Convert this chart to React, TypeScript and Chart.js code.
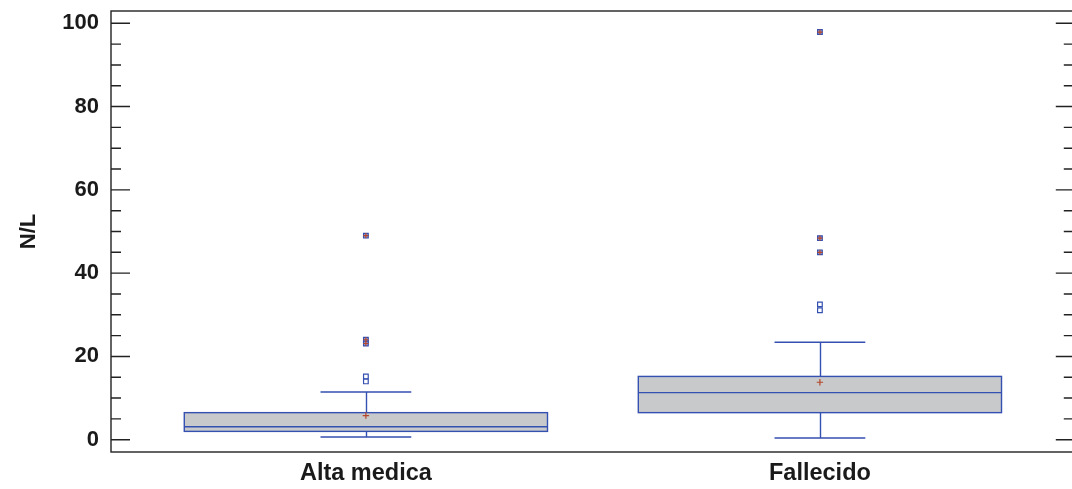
import React, { useEffect, useRef } from 'react';
import { Chart, registerables } from 'chart.js';

Chart.register(...registerables);

// ---- Data ----
const categories = ['Alta medica', 'Fallecido'];
const categoryPositions = [1, 2];
const q1Values = [2.0, 6.5];
const medianValues = [3.1, 11.3];
const q3Values = [6.5, 15.2];
const lowerWhisker = [0.65, 0.4];
const upperWhisker = [11.45, 23.4];
const meanValues = [5.8, 13.8];
const nearOutliers = [
  [15.2, 14.0],
  [32.5, 31.1],
];
const farOutliers = [
  [49.0, 24.0, 23.1],
  [97.9, 48.4, 45.0],
];
const yMajorTicks = [0, 20, 40, 60, 80, 100];
const yMinorTicks = [5, 10, 15, 25, 30, 35, 45, 50, 55, 65, 70, 75, 85, 90, 95];
const yAxisTitle = 'N/L';

// ---- Styles ----
const BLUE = '#3450b0';
const BOX_FILL = '#c8c9cb';
const RED = '#b4472a';
const FRAME = '#222222';
const BOX_HALF = 0.4;
const CAP_HALF = 0.1;
const FONT = 'Liberation Sans, Arial, sans-serif';

const boxPlugin = {
  id: 'boxplotDraw',
  beforeDatasetsDraw(chart: any) {
    const { ctx, chartArea, scales } = chart;
    const x = scales.x;
    const y = scales.y;
    ctx.save();
    ctx.beginPath();
    ctx.rect(chartArea.left, chartArea.top, chartArea.right - chartArea.left, chartArea.bottom - chartArea.top);
    ctx.clip();
    categoryPositions.forEach((pos, i) => {
      const cx = Math.round(x.getPixelForValue(pos)) + 0.5;
      const left = x.getPixelForValue(pos - BOX_HALF);
      const right = x.getPixelForValue(pos + BOX_HALF);
      const capL = x.getPixelForValue(pos - CAP_HALF);
      const capR = x.getPixelForValue(pos + CAP_HALF);
      const yq1 = y.getPixelForValue(q1Values[i]);
      const yq3 = y.getPixelForValue(q3Values[i]);
      const ymed = y.getPixelForValue(medianValues[i]);
      const ylo = y.getPixelForValue(lowerWhisker[i]);
      const yhi = y.getPixelForValue(upperWhisker[i]);
      ctx.strokeStyle = BLUE;
      ctx.lineWidth = 1.4;
      ctx.beginPath();
      ctx.moveTo(cx, yq3);
      ctx.lineTo(cx, yhi);
      ctx.moveTo(capL, yhi);
      ctx.lineTo(capR, yhi);
      ctx.moveTo(cx, yq1);
      ctx.lineTo(cx, ylo);
      ctx.moveTo(capL, ylo);
      ctx.lineTo(capR, ylo);
      ctx.stroke();
      ctx.fillStyle = BOX_FILL;
      ctx.fillRect(left, yq3, right - left, yq1 - yq3);
      ctx.strokeRect(left, yq3, right - left, yq1 - yq3);
      ctx.beginPath();
      ctx.moveTo(left, ymed);
      ctx.lineTo(right, ymed);
      ctx.stroke();
    });
    ctx.restore();
  },
  afterDatasetsDraw(chart: any) {
    const { ctx, chartArea, scales } = chart;
    const y = scales.y;
    const { left, right, top, bottom } = chartArea;
    ctx.save();
    ctx.strokeStyle = FRAME;
    ctx.lineWidth = 1.4;
    ctx.strokeRect(left, top, right - left, bottom - top);
    ctx.beginPath();
    yMajorTicks.forEach((v) => {
      const py = y.getPixelForValue(v);
      ctx.moveTo(left, py);
      ctx.lineTo(left + 19, py);
      ctx.moveTo(right, py);
      ctx.lineTo(right - 19, py);
    });
    yMinorTicks.forEach((v) => {
      const py = y.getPixelForValue(v);
      ctx.moveTo(left, py);
      ctx.lineTo(left + 10, py);
      ctx.moveTo(right, py);
      ctx.lineTo(right - 11, py);
    });
    ctx.stroke();
    ctx.restore();
  },
};

export default function App() {
  const canvasRef = useRef<HTMLCanvasElement | null>(null);

  useEffect(() => {
    if (!canvasRef.current) return;
    const nearData: { x: number; y: number }[] = [];
    const farData: { x: number; y: number }[] = [];
    categoryPositions.forEach((pos, i) => {
      nearOutliers[i].forEach((v) => nearData.push({ x: pos, y: v }));
      farOutliers[i].forEach((v) => farData.push({ x: pos, y: v }));
    });
    const meanData = categoryPositions.map((pos, i) => ({ x: pos, y: meanValues[i] }));

    const chart = new Chart(canvasRef.current, {
      type: 'scatter',
      data: {
        datasets: [
          {
            label: 'mean',
            data: meanData,
            pointStyle: 'cross',
            pointRadius: 3.2,
            borderColor: RED,
            borderWidth: 1.2,
          },
          {
            label: 'farCross',
            data: farData,
            pointStyle: 'cross',
            pointRadius: 2.6,
            borderColor: RED,
            borderWidth: 1.2,
          },
          {
            label: 'far',
            data: farData,
            pointStyle: 'rect',
            pointRadius: 3.3,
            borderColor: BLUE,
            backgroundColor: '#9aa6dc',
            borderWidth: 1.2,
          },
          {
            label: 'near',
            data: nearData,
            pointStyle: 'rect',
            pointRadius: 3.3,
            borderColor: BLUE,
            backgroundColor: '#ffffff',
            borderWidth: 1.2,
          },
        ],
      },
      options: {
        animation: false,
        responsive: false,
        layout: { padding: { top: 11, right: 1, left: 0, bottom: 0 } },
        plugins: {
          legend: { display: false },
          tooltip: { enabled: false },
        },
        scales: {
          x: {
            type: 'linear',
            min: 0.4386,
            max: 2.5614,
            grid: { display: false, drawTicks: false },
            border: { display: false },
            afterBuildTicks: (s: any) => {
              s.ticks = categoryPositions.map((v) => ({ value: v }));
            },
            afterFit: (s: any) => {
              s.height = 37;
              s.paddingLeft = 0;
              s.paddingRight = 0;
            },
            ticks: {
              padding: 7,
              autoSkip: false,
              maxRotation: 0,
              color: '#1a1a1a',
              font: { family: FONT, size: 23.5, weight: 'bold' },
              callback: (v: any) => {
                const idx = categoryPositions.indexOf(Number(v));
                return idx >= 0 ? categories[idx] : '';
              },
            },
          },
          y: {
            type: 'linear',
            min: -2.95,
            max: 102.95,
            grid: { display: false, drawTicks: false },
            border: { display: false },
            afterBuildTicks: (s: any) => {
              s.ticks = yMajorTicks.map((v) => ({ value: v }));
            },
            afterFit: (s: any) => {
              s.width = 111;
              s.paddingTop = 0;
              s.paddingBottom = 0;
            },
            ticks: {
              padding: 12,
              color: '#1a1a1a',
              font: { family: FONT, size: 22, weight: 'bold' },
            },
            title: {
              display: true,
              text: yAxisTitle,
              color: '#1a1a1a',
              font: { family: FONT, size: 22, weight: 'bold' },
              padding: { top: 16, bottom: 0 },
            },
          },
        },
      },
      plugins: [boxPlugin],
    } as any);
    return () => chart.destroy();
  }, []);

  return (
    <div
      style={{
        position: 'fixed',
        left: 0,
        top: 0,
        width: 1072,
        height: 489,
        overflow: 'hidden',
        background: '#ffffff',
      }}
    >
      <canvas ref={canvasRef} width={1080} height={489} style={{ display: 'block' }} />
    </div>
  );
}
